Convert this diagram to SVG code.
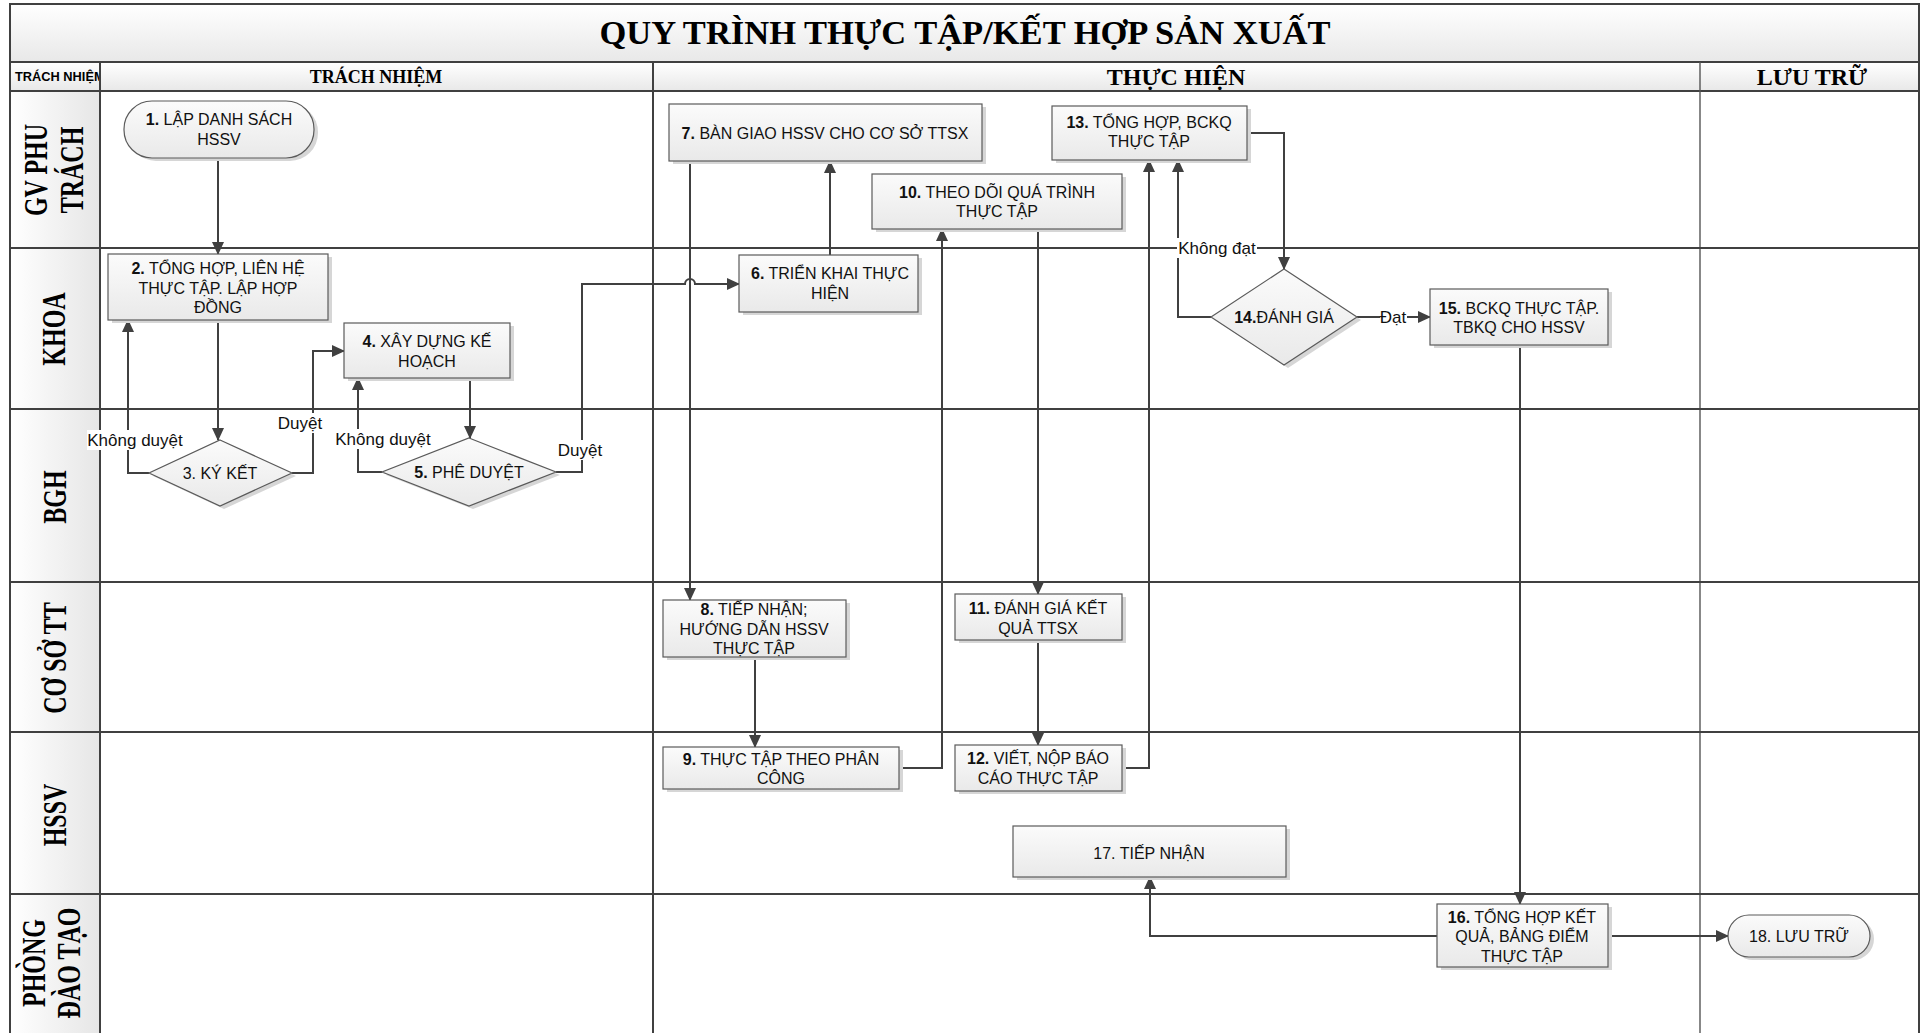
<svg xmlns="http://www.w3.org/2000/svg" width="1925" height="1033" viewBox="0 0 1925 1033">
<defs>
<linearGradient id="gV" x1="0" y1="0" x2="0" y2="1"><stop offset="0" stop-color="#ffffff"/><stop offset="1" stop-color="#e8e8e8"/></linearGradient>
<linearGradient id="gH" x1="0" y1="0" x2="1" y2="0"><stop offset="0" stop-color="#ffffff"/><stop offset="1" stop-color="#e6e6e6"/></linearGradient>
<linearGradient id="gN" x1="0" y1="0" x2="0" y2="1"><stop offset="0" stop-color="#fbfbfb"/><stop offset="1" stop-color="#e9e9e9"/></linearGradient>
<marker id="ar" viewBox="0 0 13 12" refX="12" refY="6" markerWidth="13" markerHeight="12" markerUnits="userSpaceOnUse" orient="auto"><path d="M0,0 L13,6 L0,12 z" fill="#404040"/></marker>
<clipPath id="cSmall"><rect x="10" y="62" width="89" height="29"/></clipPath>
<style>
.n{font-family:"Liberation Sans",Arial,sans-serif;font-size:16px;text-anchor:middle;fill:#111}
.b{font-weight:bold}
.lbl{font-family:"Liberation Sans",Arial,sans-serif;font-size:17px;text-anchor:middle;fill:#111}
.lane{font-family:"Liberation Serif","Times New Roman",serif;font-weight:bold;font-size:24px;text-anchor:middle;fill:#000}
.hd{font-family:"Liberation Serif","Times New Roman",serif;font-weight:bold;text-anchor:middle;fill:#000}
.box{fill:url(#gN);stroke:#5a5a5a;stroke-width:1.2}
.sh{fill:#d6d6d6}
.grid{stroke:#404040;stroke-width:2;fill:none}
.thin{stroke:#555;stroke-width:1.4;fill:none}
.con{stroke:#404040;stroke-width:2;fill:none}
.ca{marker-end:url(#ar)}
.lb{fill:#ffffff}
</style>
</defs>
<rect x="0" y="0" width="1925" height="1033" fill="#ffffff"/>

<g id="frame">
<rect x="10" y="4" width="1909" height="58" fill="url(#gV)"/>
<rect x="10" y="62" width="1909" height="29" fill="url(#gV)"/>
<rect x="10" y="91" width="90" height="950" fill="url(#gH)"/>
<path class="grid" d="M10,1040 V4 H1919 V1040"/>
<path class="grid" d="M10,62 H1919 M10,91 H1919"/>
<path class="grid" d="M100,62 V1040 M653,62 V1040"/>
<path class="thin" d="M1700,62 V1040"/>
<path class="grid" d="M10,248 H1919 M10,409 H1919 M10,582 H1919 M10,732 H1919 M10,894 H1919"/>
<text class="hd" x="965" y="44" font-size="34.5">QUY TRÌNH THỰC TẬP/KẾT HỢP SẢN XUẤT</text>
<text x="15" y="81" clip-path="url(#cSmall)" font-family="'Liberation Sans',Arial,sans-serif" font-weight="bold" font-size="12.8" fill="#000">TRÁCH NHIỆM</text>
<text class="hd" x="376" y="83" font-size="18">TRÁCH NHIỆM</text>
<text class="hd" x="1176" y="85" font-size="24">THỰC HIỆN</text>
<text class="hd" x="1812" y="85" font-size="24">LƯU TRỮ</text>
</g>

<g id="lanes">
<text class="lane" transform="translate(47,170) rotate(-90) scale(1,1.38)">GV PHU</text>
<text class="lane" transform="translate(83,170) rotate(-90) scale(1,1.38)">TRÁCH</text>
<text class="lane" transform="translate(65,329) rotate(-90) scale(1,1.38)">KHOA</text>
<text class="lane" transform="translate(66,497) rotate(-90) scale(1,1.38)">BGH</text>
<text class="lane" transform="translate(66,658) rotate(-90) scale(1,1.38)">CƠ SỞ TT</text>
<text class="lane" transform="translate(66,815) rotate(-90) scale(1,1.38)">HSSV</text>
<text class="lane" transform="translate(45,963) rotate(-90) scale(1,1.38)">PHÒNG</text>
<text class="lane" transform="translate(80,963) rotate(-90) scale(1,1.38)">ĐÀO TẠO</text>
</g>

<g id="connectors">
<path class="con ca" d="M218,158 V254"/>
<path class="con ca" d="M218,320 V440"/>
<path class="con ca" d="M149,473 H128 V320"/>
<path class="con ca" d="M292,473 H313 V351 H344"/>
<path class="con ca" d="M470,378 V438"/>
<path class="con ca" d="M382,472 H358 V378"/>
<path class="con ca" d="M556,472 H582 V284 H685 A5,5 0 0 1 695,284 H739"/>
<path class="con ca" d="M830,255 V161"/>
<path class="con ca" d="M690,161 V600"/>
<path class="con ca" d="M755,657 V747"/>
<path class="con ca" d="M899,768 H942 V229"/>
<path class="con ca" d="M1038,229 V594"/>
<path class="con ca" d="M1038,640 V745"/>
<path class="con ca" d="M1122,768 H1149 V160"/>
<path class="con ca" d="M1247,133 H1284 V269"/>
<path class="con ca" d="M1211,317 H1178 V160"/>
<path class="con ca" d="M1357,317 H1430"/>
<path class="con ca" d="M1520,345 V904"/>
<path class="con ca" d="M1437,936 H1150 V877"/>
<path class="con ca" d="M1608,936 H1728"/>
<rect class="lb" x="87" y="430" width="96" height="20"/>
<text class="lbl" x="135" y="446">Không duyệt</text>
<rect class="lb" x="277" y="413" width="47" height="20"/>
<text class="lbl" x="300" y="429">Duyệt</text>
<rect class="lb" x="335" y="429" width="96" height="20"/>
<text class="lbl" x="383" y="445">Không duyệt</text>
<rect class="lb" x="557" y="440" width="47" height="20"/>
<text class="lbl" x="580" y="456">Duyệt</text>
<rect class="lb" x="1177" y="238" width="80" height="20"/>
<text class="lbl" x="1217" y="254">Không đạt</text>
<rect class="lb" x="1380" y="307" width="27" height="20"/>
<text class="lbl" x="1393" y="323">Đạt</text>
</g>

<g id="n1">
<rect class="sh" x="128" y="104" width="190" height="57" rx="28" ry="28"/>
<rect class="box" x="124" y="101" width="190" height="57" rx="28" ry="28"/>
<text class="n" x="219" y="125"><tspan class="b">1.</tspan> LẬP DANH SÁCH</text>
<text class="n" x="219" y="145">HSSV</text>
</g>
<g id="n2">
<rect class="sh" x="112" y="257" width="220" height="66"/>
<rect class="box" x="108" y="254" width="220" height="66"/>
<text class="n" x="218" y="274"><tspan class="b">2.</tspan> TỔNG HỢP, LIÊN HỆ</text>
<text class="n" x="218" y="294">THỰC TẬP. LẬP HỢP</text>
<text class="n" x="218" y="313">ĐỒNG</text>
</g>
<g id="n3">
<polygon class="sh" points="224,443 296,476 224,509 153,476"/>
<polygon class="box" points="220,440 292,473 220,506 149,473"/>
<text class="n" x="220" y="479">3. KÝ KẾT</text>
</g>
<g id="n4">
<rect class="sh" x="348" y="326" width="166" height="55"/>
<rect class="box" x="344" y="323" width="166" height="55"/>
<text class="n" x="427" y="347"><tspan class="b">4.</tspan> XÂY DỰNG KẾ</text>
<text class="n" x="427" y="367">HOẠCH</text>
</g>
<g id="n5">
<polygon class="sh" points="473,441 560,475 473,509 386,475"/>
<polygon class="box" points="469,438 556,472 469,506 382,472"/>
<text class="n" x="469" y="478"><tspan class="b">5.</tspan> PHÊ DUYỆT</text>
</g>
<g id="n6">
<rect class="sh" x="743" y="258" width="179" height="57"/>
<rect class="box" x="739" y="255" width="179" height="57"/>
<text class="n" x="830" y="279"><tspan class="b">6.</tspan> TRIỂN KHAI THỰC</text>
<text class="n" x="830" y="299">HIỆN</text>
</g>
<g id="n7">
<rect class="sh" x="673" y="107" width="313" height="57"/>
<rect class="box" x="669" y="104" width="313" height="57"/>
<text class="n" x="825" y="139"><tspan class="b">7.</tspan> BÀN GIAO HSSV CHO CƠ SỞ TTSX</text>
</g>
<g id="n8">
<rect class="sh" x="667" y="603" width="183" height="57"/>
<rect class="box" x="663" y="600" width="183" height="57"/>
<text class="n" x="754" y="615"><tspan class="b">8.</tspan> TIẾP NHẬN;</text>
<text class="n" x="754" y="635">HƯỚNG DẪN HSSV</text>
<text class="n" x="754" y="654">THỰC TẬP</text>
</g>
<g id="n9">
<rect class="sh" x="667" y="750" width="236" height="42"/>
<rect class="box" x="663" y="747" width="236" height="42"/>
<text class="n" x="781" y="765"><tspan class="b">9.</tspan> THỰC TẬP THEO PHÂN</text>
<text class="n" x="781" y="784">CÔNG</text>
</g>
<g id="n10">
<rect class="sh" x="876" y="177" width="250" height="55"/>
<rect class="box" x="872" y="174" width="250" height="55"/>
<text class="n" x="997" y="198"><tspan class="b">10.</tspan> THEO DÕI QUÁ TRÌNH</text>
<text class="n" x="997" y="217">THỰC TẬP</text>
</g>
<g id="n11">
<rect class="sh" x="959" y="597" width="167" height="46"/>
<rect class="box" x="955" y="594" width="167" height="46"/>
<text class="n" x="1038" y="614"><tspan class="b">11.</tspan> ĐÁNH GIÁ KẾT</text>
<text class="n" x="1038" y="634">QUẢ TTSX</text>
</g>
<g id="n12">
<rect class="sh" x="959" y="748" width="167" height="46"/>
<rect class="box" x="955" y="745" width="167" height="46"/>
<text class="n" x="1038" y="764"><tspan class="b">12.</tspan> VIẾT, NỘP BÁO</text>
<text class="n" x="1038" y="784">CÁO THỰC TẬP</text>
</g>
<g id="n13">
<rect class="sh" x="1056" y="109" width="195" height="54"/>
<rect class="box" x="1052" y="106" width="195" height="54"/>
<text class="n" x="1149" y="128"><tspan class="b">13.</tspan> TỔNG HỢP, BCKQ</text>
<text class="n" x="1149" y="147">THỰC TẬP</text>
</g>
<g id="n14">
<polygon class="sh" points="1288,272 1361,320 1288,368 1215,320"/>
<polygon class="box" points="1284,269 1357,317 1284,365 1211,317"/>
<text class="n" x="1284" y="323"><tspan class="b">14.</tspan>ĐÁNH GIÁ</text>
</g>
<g id="n15">
<rect class="sh" x="1434" y="292" width="178" height="56"/>
<rect class="box" x="1430" y="289" width="178" height="56"/>
<text class="n" x="1519" y="314"><tspan class="b">15.</tspan> BCKQ THỰC TẬP.</text>
<text class="n" x="1519" y="333">TBKQ CHO HSSV</text>
</g>
<g id="n16">
<rect class="sh" x="1441" y="907" width="171" height="63"/>
<rect class="box" x="1437" y="904" width="171" height="63"/>
<text class="n" x="1522" y="923"><tspan class="b">16.</tspan> TỔNG HỢP KẾT</text>
<text class="n" x="1522" y="942">QUẢ, BẢNG ĐIỂM</text>
<text class="n" x="1522" y="962">THỰC TẬP</text>
</g>
<g id="n17">
<rect class="sh" x="1017" y="829" width="273" height="51"/>
<rect class="box" x="1013" y="826" width="273" height="51"/>
<text class="n" x="1149" y="859">17. TIẾP NHẬN</text>
</g>
<g id="n18">
<rect class="sh" x="1732" y="918" width="142" height="42" rx="21" ry="21"/>
<rect class="box" x="1728" y="915" width="142" height="42" rx="21" ry="21"/>
<text class="n" x="1799" y="942">18. LƯU TRỮ</text>
</g>
</svg>
